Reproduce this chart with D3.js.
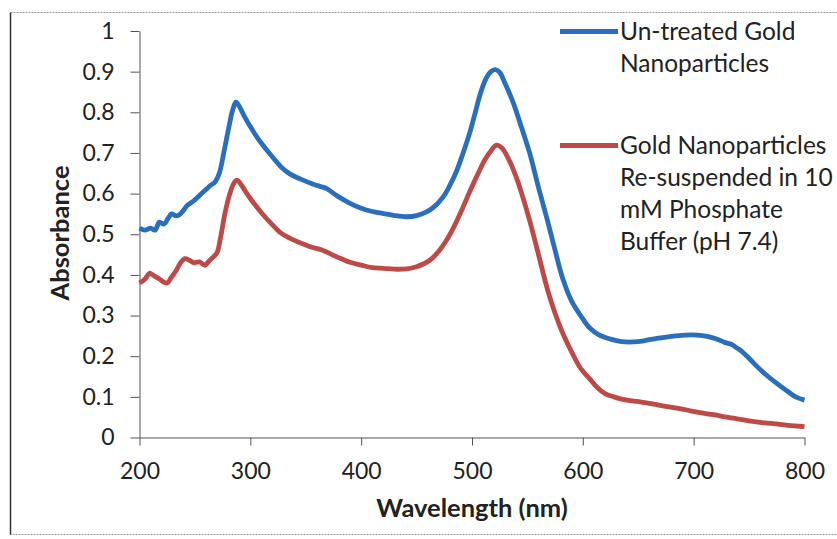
<!DOCTYPE html>
<html>
<head>
<meta charset="utf-8">
<script src="https://cdn.jsdelivr.net/npm/d3@7"></script>
<style>
  body { margin: 0; background: #fff; }
  svg text { font-family: Lato, "Open Sans", sans-serif; fill: #222; }
  .axis path, .axis line { stroke: #555; }
</style>
</head>
<body>
<div id="chart"></div>
<script>
// wavelengths (nm) for each series
var wl_blue = [200,205,210,214,218,222,226,229,233,236,240,243,248,252,256,260,264,268,272,276,280,284,287,290,295,300,305,310,320,328,336,346,358,364,369,378,390,400,410,420,430,441,450,459,466,474,480,486,492,498,503,508,513,517,521,525,530,537,545,552,560,568,575,582,590,598,606,615,625,635,645,655,667,680,692,703,712,720,728,735,738,742,750,757,765,775,785,792,800]
var abs_blue = [0.515,0.51,0.515,0.51,0.53,0.525,0.54,0.55,0.545,0.548,0.56,0.571,0.58,0.59,0.60,0.61,0.62,0.628,0.65,0.70,0.755,0.805,0.825,0.815,0.788,0.765,0.743,0.724,0.69,0.665,0.648,0.635,0.622,0.617,0.612,0.595,0.576,0.564,0.556,0.551,0.546,0.543,0.546,0.555,0.568,0.592,0.62,0.655,0.70,0.75,0.80,0.85,0.885,0.90,0.905,0.898,0.87,0.825,0.76,0.70,0.615,0.535,0.46,0.39,0.335,0.30,0.27,0.252,0.242,0.236,0.235,0.238,0.244,0.249,0.252,0.252,0.249,0.243,0.234,0.228,0.222,0.215,0.195,0.175,0.155,0.133,0.113,0.10,0.092]

var wl_red = [200,205,209,213,218,222,225,229,233,237,241,245,249,254,259,263,267,270,273,277,281,285,288,291,295,300,305,310,320,328,336,346,358,364,369,380,390,400,410,420,430,441,450,457,462,470,477,484,492,498,503,507,512,517,522,527,533,540,546,552,560,568,575,582,590,598,606,613,620,628,636,650,660,672,685,695,706,718,730,739,750,760,772,785,800]
var abs_red = [0.38,0.39,0.404,0.398,0.39,0.382,0.38,0.395,0.41,0.43,0.44,0.436,0.43,0.432,0.424,0.435,0.445,0.455,0.49,0.55,0.595,0.625,0.633,0.625,0.608,0.588,0.57,0.553,0.523,0.502,0.49,0.478,0.466,0.462,0.456,0.442,0.431,0.424,0.418,0.416,0.414,0.415,0.42,0.428,0.436,0.458,0.485,0.52,0.567,0.605,0.635,0.658,0.685,0.705,0.719,0.712,0.685,0.64,0.59,0.534,0.45,0.365,0.305,0.256,0.21,0.17,0.145,0.123,0.108,0.10,0.094,0.088,0.084,0.078,0.072,0.067,0.061,0.056,0.05,0.046,0.041,0.037,0.034,0.03,0.027]

var x_ticks = [200,300,400,500,600,700,800]
var y_ticks = [0,0.1,0.2,0.3,0.4,0.5,0.6,0.7,0.8,0.9,1]

var series_names = [
  ["Un-treated Gold", "Nanoparticles"],
  ["Gold Nanoparticles", "Re-suspended in 10", "mM Phosphate", "Buffer (pH 7.4)"]
]
var series_colors = ["#2a6fbd", "#be4a47"]

var W = 837, H = 539

var svg = d3.select("#chart").append("svg")
    .attr("width", W)
    .attr("height", H)

// outer frame
svg.append("rect")
    .attr("x", 10.5).attr("y", 12.5)
    .attr("width", 830).attr("height", 522)
    .attr("fill", "none")
    .attr("stroke", "#999")
    .attr("stroke-dasharray", "2,1")
svg.append("line")
    .attr("x1", 10.5).attr("x2", 10.5)
    .attr("y1", 12.5).attr("y2", 534.5)
    .attr("stroke", "#333").attr("stroke-width", 1.5)

var x_scale = d3.scaleLinear().domain([200, 800]).range([139.5, 804.5])
var y_scale = d3.scaleLinear().domain([0, 1]).range([437.5, 31])

// axes
var xaxis = svg.append("g")
    .attr("class", "axis")
    .attr("transform", "translate(0," + y_scale(0) + ")")
    .call(d3.axisBottom(x_scale).tickValues(x_ticks).tickSize(8).tickSizeOuter(0).tickPadding(17))
xaxis.selectAll("text").attr("font-size", 23).style("font-family", "Lato")

var yaxis = svg.append("g")
    .attr("class", "axis")
    .attr("transform", "translate(" + x_scale(200) + ",0)")
    .call(d3.axisLeft(y_scale).tickValues(y_ticks).tickSize(9).tickSizeOuter(0).tickPadding(16)
      .tickFormat(function (d) { return d3.format("")(+d.toFixed(1)) }))
yaxis.selectAll("text").attr("font-size", 23).style("font-family", "Lato")
svg.selectAll(".axis .domain").attr("stroke", "#555")

// axis titles
svg.append("text")
    .attr("x", 472).attr("y", 517)
    .attr("text-anchor", "middle")
    .attr("font-size", 25.5).attr("font-weight", "bold")
    .text("Wavelength (nm)")

svg.append("text")
    .attr("transform", "translate(69,233) rotate(-90)")
    .attr("text-anchor", "middle")
    .attr("font-size", 25.5).attr("font-weight", "bold")
    .text("Absorbance")

// lines
var line = d3.line()
    .x(function (d) { return x_scale(d[0]) })
    .y(function (d) { return y_scale(d[1]) })
    .curve(d3.curveCatmullRom)

var data = [
  d3.zip(wl_blue, abs_blue),
  d3.zip(wl_red, abs_red)
]

svg.append("g").selectAll("path")
    .data(data)
    .enter()
    .append("path")
    .attr("d", line)
    .attr("fill", "none")
    .attr("stroke", function (d, i) { return series_colors[i] })
    .attr("stroke-width", 4.8)
    .attr("stroke-linejoin", "round")

// legend
var legend_y = [31.5, 145.5]
var lg = svg.append("g").selectAll("g")
    .data(series_names)
    .enter()
    .append("g")
    .attr("transform", function (d, i) { return "translate(0," + legend_y[i] + ")" })

lg.append("line")
    .attr("x1", 560).attr("x2", 618)
    .attr("stroke", function (d, i) { return series_colors[i] })
    .attr("stroke-width", 4.8)

lg.selectAll("text")
    .data(function (d) { return d })
    .enter()
    .append("text")
    .attr("x", 620)
    .attr("y", function (d, j) { return 8 + j * 32 })
    .attr("font-size", 24.5)
    .text(function (d) { return d })
</script>
</body>
</html>
